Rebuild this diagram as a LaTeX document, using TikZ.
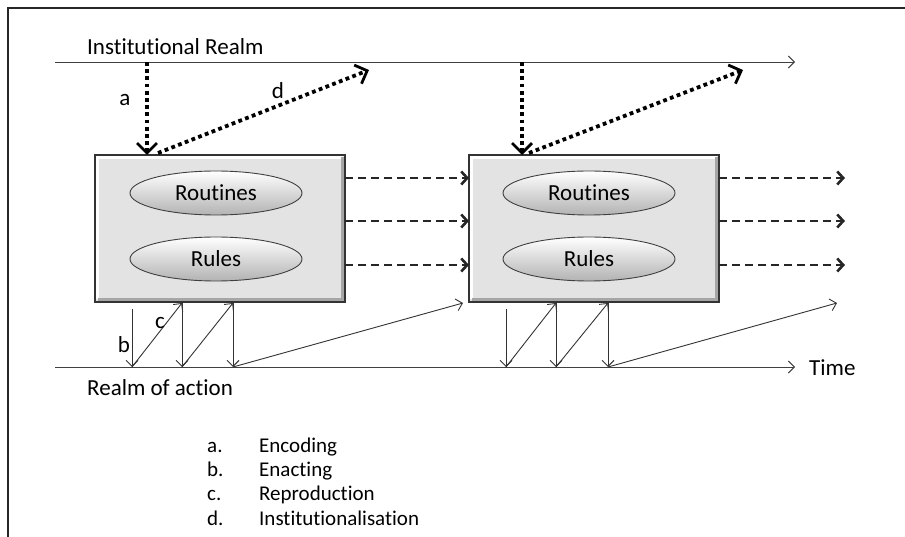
\documentclass[tikz,border=0pt]{standalone}
\usepackage{fontspec}
\setmainfont{Carlito}[Ligatures=NoCommon]
\usetikzlibrary{arrows.meta,shapes.geometric,calc}
\begin{document}
\begin{tikzpicture}[x=1pt,y=-1pt,
  txt/.style={font=\fontsize{23}{27}\selectfont, inner sep=0pt},
  leg/.style={font=\fontsize{21}{25}\selectfont, inner sep=0pt, anchor=base west},
  thin/.style={draw=black!80, line width=0.9pt, -{Straight Barb[length=6pt,width=12pt]}},
  axis/.style={draw=black!75, line width=0.9pt, -{Straight Barb[length=6pt,width=12pt]}},
  dotarr/.style={draw=black, line width=3.8pt, dash pattern=on 3.8pt off 3.4pt,
     -{Straight Barb[length=10pt,width=20pt,line width=2.8pt]}},
  dasharr/.style={draw=black!85, line width=2.4pt, dash pattern=on 8pt off 5pt,
     -{Straight Barb[length=6pt,width=13pt,line width=2.6pt]}},
  boxst/.style={draw=black!80, line width=1.4pt, fill=black!11, minimum width=250pt,
     minimum height=147pt, inner sep=0pt, outer sep=0pt},
  ell/.style={ellipse, draw=black!75, line width=0.9pt, top color=white, bottom color=black!30,
     minimum width=172pt, minimum height=44pt, inner sep=0pt,
     font=\fontsize{23}{27}\selectfont}
]
\useasboundingbox (0,0) rectangle (905,537);
% frame
\draw[line width=1.6pt, black!85] (8,537) -- (8,8) -- (905,8);

% axes
\coordinate (ir0) at (55,62);
\coordinate (ir1) at (795,62);
\coordinate (ra0) at (55,367);
\coordinate (ra1) at (795,367);
\draw[axis] (ir0) -- (ir1);
\draw[axis] (ra0) -- (ra1);
\node[txt, anchor=base west] (irl) at (87,55) {Institutional Realm};
\node[txt, anchor=base west] (ral) at (87,395) {Realm of action};
\node[txt, anchor=base west] (time) at (809,375) {Time};

% boxes
\foreach \n/\cx in {b1/220, b2/594} {
  \node[boxst] (\n) at (\cx,228.5) {};
  \draw[white, line width=2.5pt] ($(\n.south west)+(2.5,-2.5)$) -- ($(\n.north west)+(2.5,2.5)$) -- ($(\n.north east)+(-2.5,2.5)$);
  \draw[black!35, line width=2.5pt] ($(\n.north east)+(-2.5,2.5)$) -- ($(\n.south east)+(-2.5,-2.5)$) -- ($(\n.south west)+(2.5,-2.5)$);
  \draw[black!80, line width=1.4pt] (\n.north west) rectangle (\n.south east);
}
\node[ell] (rt1) at (216,193) {Routines};
\node[ell] (ru1) at (216,259) {Rules};
\node[ell] (rt2) at (589,193) {Routines};
\node[ell] (ru2) at (589,259) {Rules};

% dashed arrows
\coordinate (e1) at (845,178);
\coordinate (e2) at (845,221);
\coordinate (e3) at (845,265);
\foreach \y in {178,221,265} {
  \draw[dasharr] (b1.east |- 0,\y) -- (b2.west |- 0,\y);
}
\draw[dasharr] (b2.east |- e1) -- (e1);
\draw[dasharr] (b2.east |- e2) -- (e2);
\draw[dasharr] (b2.east |- e3) -- (e3);

% dotted arrows a and d
\coordinate (a1s) at (147,62);
\coordinate (d1e) at (369,70);
\coordinate (a2s) at (522,62);
\coordinate (d2e) at (743,70);
\draw[dotarr] (a1s) -- (b1.north -| a1s);
\draw[dotarr] ($(b1.north west)+(63,-2)$) -- (d1e);
\draw[dotarr] (a2s) -- (b2.north -| a2s);
\draw[dotarr] ($(b2.north west)+(60,-2)$) -- (d2e);
\node[txt] (la) at (125,100) {a};
\node[txt] (ld) at (278,91) {d};

% bottom zigzag arrows, box 1
\coordinate (p1) at (132,367);
\coordinate (p2) at (182,367);
\coordinate (p3) at (233,367);
\coordinate (q0) at (132,309);
\coordinate (q1) at (182,303);
\coordinate (q2) at (233,303);
\coordinate (q3) at (463,303);
\draw[thin] (q0) -- (p1);
\draw[thin] (p1) -- (q1);
\draw[thin] (q1) -- (p2);
\draw[thin] (p2) -- (q2);
\draw[thin] (q2) -- (p3);
\draw[thin] (p3) -- (q3);
\node[txt] (lb) at (124,345) {b};
\node[txt] (lc) at (160,323) {c};

% box 2
\coordinate (r1) at (506,367);
\coordinate (r2) at (556,367);
\coordinate (r3) at (608,367);
\coordinate (s0) at (506,309);
\coordinate (s1) at (556,303);
\coordinate (s2) at (608,303);
\coordinate (s3) at (837,303);
\draw[thin] (s0) -- (r1);
\draw[thin] (r1) -- (s1);
\draw[thin] (s1) -- (r2);
\draw[thin] (r2) -- (s2);
\draw[thin] (s2) -- (r3);
\draw[thin] (r3) -- (s3);

% legend
\node[leg] (ka) at (207,452) {a.};
\node[leg] (kb) at (207,476) {b.};
\node[leg] (kc) at (207,500) {c.};
\node[leg] (kd) at (207,525) {d.};
\node[leg] (va) at (259,452) {Encoding};
\node[leg] (vb) at (259,476) {Enacting};
\node[leg] (vc) at (259,500) {Reproduction};
\node[leg] (vd) at (259,525) {Institutionalisation};
\end{tikzpicture}
\end{document}
